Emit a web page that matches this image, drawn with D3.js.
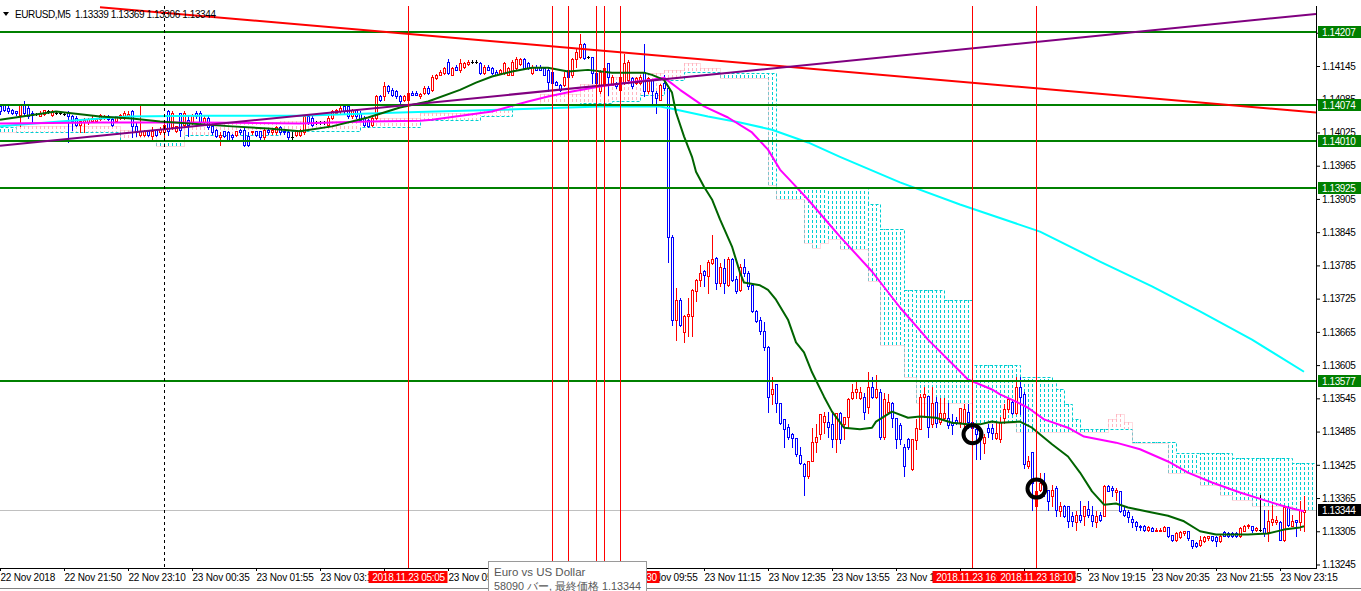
<!DOCTYPE html>
<html><head><meta charset="utf-8"><title>EURUSD,M5</title>
<script src="https://cdn.jsdelivr.net/npm/d3@7/dist/d3.min.js"></script>
<style>
html,body{margin:0;padding:0;background:#fff;overflow:hidden;}
svg{display:block;}
text{font-family:"Liberation Sans",Arial,sans-serif;}
</style></head>
<body><svg id="chart" width="1361" height="591"></svg>
<script>
// ---------------- DATA ----------------
const symbolTitle = "EURUSD,M5";
const headerValues = ["1.13339","1.13369","1.13306","1.13344"];

const opens = [
1.14072,1.14074,1.14070,1.14066,1.14063,1.14057,1.14075,1.14070,1.14061,1.14059,
1.14055,1.14059,1.14063,1.14057,1.14061,1.14061,1.14059,1.14061,1.14054,1.14052,
1.14039,1.14043,1.14043,1.14045,1.14045,1.14050,1.14052,1.14055,1.14050,1.14045,
1.14052,1.14052,1.14054,1.14063,1.14036,1.14021,1.14021,1.14027,1.14018,1.14030,
1.14025,1.14025,1.14063,1.14034,1.14027,1.14061,1.14039,1.14048,1.14043,1.14061,
1.14061,1.14043,1.14052,1.14036,1.14030,1.14016,1.14027,1.14025,1.14021,1.14021,
1.14030,1.14030,1.14018,1.14025,1.14027,1.14027,1.14016,1.14030,1.14025,1.14025,
1.14034,1.14027,1.14025,1.14016,1.14021,1.14021,1.14025,1.14054,1.14052,1.14043,
1.14043,1.14043,1.14039,1.14052,1.14061,1.14063,1.14072,1.14072,1.14054,1.14066,
1.14061,1.14052,1.14048,1.14039,1.14052,1.14090,1.14090,1.14108,1.14102,1.14099,
1.14090,1.14084,1.14084,1.14097,1.14097,1.14090,1.14097,1.14106,1.14102,1.14124,
1.14129,1.14133,1.14153,1.14129,1.14144,1.14138,1.14144,1.14148,1.14153,1.14153,
1.14151,1.14133,1.14144,1.14142,1.14135,1.14133,1.14133,1.14129,1.14129,1.14142,
1.14148,1.14157,1.14151,1.14133,1.14144,1.14144,1.14142,1.14138,1.14135,1.14117,
1.14111,1.14111,1.14138,1.14129,1.14157,1.14162,1.14184,1.14162,1.14162,1.14133,
1.14099,1.14111,1.14151,1.14111,1.14115,1.14102,1.14115,1.14120,1.14124,1.14115,
1.14115,1.14135,1.14099,1.14120,1.14097,1.14084,1.14115,1.14106,1.13837,1.13687,
1.13722,1.13664,1.13693,1.13693,1.13738,1.13759,1.13774,1.13765,1.13790,1.13799,
1.13754,1.13781,1.13750,1.13796,1.13761,1.13741,1.13783,1.13772,1.13749,1.13702,
1.13687,1.13667,1.13637,1.13552,1.13570,1.13537,1.13507,1.13494,1.13480,1.13474,
1.13442,1.13427,1.13404,1.13431,1.13467,1.13480,1.13503,1.13503,1.13498,1.13472,
1.13519,1.13498,1.13512,1.13545,1.13556,1.13546,1.13548,1.13530,1.13565,1.13548,
1.13557,1.13476,1.13521,1.13537,1.13510,1.13496,1.13458,1.13471,1.13418,1.13469,
1.13489,1.13548,1.13550,1.13498,1.13539,1.13503,1.13510,1.13510,1.13501,1.13505,
1.13503,1.13498,1.13521,1.13503,1.13489,1.13483,1.13465,1.13492,1.13492,1.13474,
1.13471,1.13510,1.13525,1.13539,1.13519,1.13566,1.13552,1.13422,1.13449,1.13350,
1.13380,1.13389,1.13380,1.13368,1.13384,1.13341,1.13350,1.13350,1.13333,1.13321,
1.13335,1.13332,1.13346,1.13335,1.13321,1.13335,1.13332,1.13386,1.13384,1.13375,
1.13377,1.13344,1.13339,1.13328,1.13321,1.13315,1.13314,1.13308,1.13310,1.13306,
1.13306,1.13306,1.13312,1.13299,1.13290,1.13294,1.13301,1.13305,1.13290,1.13283,
1.13281,1.13287,1.13292,1.13296,1.13294,1.13287,1.13303,1.13301,1.13301,1.13301,
1.13296,1.13306,1.13314,1.13314,1.13308,1.13308,1.13310,1.13303,1.13321,1.13321,
1.13321,1.13290,1.13348,1.13315,1.13326,1.13321,1.13339];

const highs = [
1.14075,1.14077,1.14072,1.14068,1.14063,1.14075,1.14081,1.14072,1.14063,1.14061,
1.14063,1.14066,1.14065,1.14065,1.14063,1.14063,1.14061,1.14063,1.14057,1.14054,
1.14048,1.14052,1.14052,1.14054,1.14052,1.14059,1.14057,1.14057,1.14052,1.14055,
1.14059,1.14063,1.14063,1.14066,1.14043,1.14072,1.14030,1.14028,1.14034,1.14032,
1.14034,1.14048,1.14066,1.14063,1.14037,1.14061,1.14063,1.14057,1.14059,1.14063,
1.14063,1.14054,1.14054,1.14037,1.14032,1.14025,1.14028,1.14027,1.14023,1.14028,
1.14032,1.14034,1.14025,1.14028,1.14028,1.14028,1.14032,1.14032,1.14032,1.14036,
1.14036,1.14028,1.14027,1.14025,1.14028,1.14032,1.14055,1.14055,1.14054,1.14045,
1.14046,1.14045,1.14054,1.14065,1.14068,1.14072,1.14074,1.14074,1.14068,1.14068,
1.14063,1.14054,1.14050,1.14054,1.14093,1.14093,1.14117,1.14111,1.14106,1.14102,
1.14093,1.14093,1.14099,1.14099,1.14099,1.14097,1.14108,1.14108,1.14128,1.14131,
1.14137,1.14144,1.14157,1.14144,1.14146,1.14157,1.14153,1.14155,1.14155,1.14156,
1.14153,1.14146,1.14146,1.14144,1.14137,1.14140,1.14153,1.14144,1.14155,1.14162,
1.14159,1.14159,1.14153,1.14146,1.14146,1.14146,1.14144,1.14142,1.14137,1.14118,
1.14113,1.14135,1.14140,1.14160,1.14175,1.14202,1.14186,1.14163,1.14162,1.14135,
1.14137,1.14153,1.14151,1.14128,1.14117,1.14128,1.14166,1.14155,1.14126,1.14126,
1.14128,1.14184,1.14126,1.14122,1.14099,1.14113,1.14129,1.14108,1.13839,1.13745,
1.13727,1.13696,1.13727,1.13743,1.13761,1.13785,1.13776,1.13794,1.13839,1.13801,
1.13790,1.13796,1.13801,1.13799,1.13765,1.13787,1.13796,1.13774,1.13750,1.13705,
1.13691,1.13682,1.13640,1.13584,1.13570,1.13537,1.13507,1.13498,1.13483,1.13474,
1.13458,1.13429,1.13431,1.13492,1.13498,1.13516,1.13521,1.13521,1.13519,1.13519,
1.13521,1.13512,1.13546,1.13570,1.13579,1.13566,1.13555,1.13593,1.13583,1.13588,
1.13561,1.13555,1.13552,1.13539,1.13510,1.13500,1.13462,1.13474,1.13471,1.13507,
1.13552,1.13566,1.13550,1.13565,1.13548,1.13546,1.13546,1.13537,1.13516,1.13512,
1.13528,1.13534,1.13534,1.13503,1.13494,1.13492,1.13480,1.13498,1.13498,1.13501,
1.13512,1.13534,1.13546,1.13543,1.13584,1.13584,1.13556,1.13440,1.13449,1.13389,
1.13411,1.13411,1.13380,1.13389,1.13386,1.13357,1.13353,1.13350,1.13339,1.13341,
1.13359,1.13350,1.13359,1.13350,1.13341,1.13339,1.13389,1.13389,1.13386,1.13384,
1.13377,1.13350,1.13344,1.13332,1.13323,1.13317,1.13317,1.13314,1.13312,1.13310,
1.13310,1.13314,1.13312,1.13299,1.13303,1.13305,1.13306,1.13306,1.13290,1.13285,
1.13297,1.13296,1.13297,1.13297,1.13296,1.13299,1.13305,1.13303,1.13303,1.13303,
1.13312,1.13317,1.13319,1.13314,1.13312,1.13371,1.13344,1.13344,1.13353,1.13333,
1.13323,1.13352,1.13350,1.13335,1.13326,1.13359,1.13369];

const lows = [
1.14059,1.14063,1.14061,1.14059,1.14057,1.14036,1.14057,1.14052,1.14043,1.14057,
1.14054,1.14057,1.14061,1.14055,1.14059,1.14059,1.14057,1.14007,1.14030,1.14036,
1.14025,1.14025,1.14041,1.14043,1.14043,1.14048,1.14050,1.14048,1.14037,1.14043,
1.14050,1.14050,1.14052,1.14016,1.14018,1.14018,1.14019,1.14019,1.14012,1.14019,
1.14023,1.14012,1.14021,1.14032,1.14025,1.14018,1.14037,1.14018,1.14041,1.14052,
1.14041,1.14041,1.14032,1.14023,1.14016,1.14003,1.14016,1.14010,1.14014,1.14019,
1.14023,1.14000,1.14000,1.14023,1.14019,1.14014,1.14014,1.14023,1.14023,1.14023,
1.14023,1.14023,1.14014,1.14009,1.14019,1.14019,1.14023,1.14041,1.14037,1.14041,
1.14041,1.14041,1.14037,1.14050,1.14059,1.14061,1.14061,1.14052,1.14052,1.14052,
1.14046,1.14037,1.14034,1.14037,1.14050,1.14081,1.14084,1.14097,1.14090,1.14088,
1.14079,1.14081,1.14083,1.14092,1.14092,1.14088,1.14095,1.14095,1.14100,1.14122,
1.14128,1.14131,1.14131,1.14128,1.14137,1.14135,1.14142,1.14146,1.14151,1.14151,
1.14131,1.14131,1.14137,1.14131,1.14128,1.14131,1.14131,1.14128,1.14128,1.14140,
1.14146,1.14140,1.14140,1.14131,1.14137,1.14137,1.14128,1.14099,1.14113,1.14110,
1.14100,1.14108,1.14124,1.14126,1.14144,1.14160,1.14158,1.14160,1.14115,1.14113,
1.14097,1.14097,1.14093,1.14110,1.14106,1.14100,1.14113,1.14118,1.14106,1.14113,
1.14113,1.14090,1.14097,1.14079,1.14061,1.14083,1.14102,1.13792,1.13678,1.13651,
1.13675,1.13646,1.13657,1.13658,1.13720,1.13747,1.13747,1.13736,1.13788,1.13743,
1.13747,1.13736,1.13747,1.13756,1.13736,1.13738,1.13765,1.13743,1.13700,1.13682,
1.13662,1.13633,1.13521,1.13534,1.13521,1.13498,1.13458,1.13471,1.13458,1.13440,
1.13426,1.13371,1.13402,1.13431,1.13449,1.13471,1.13483,1.13476,1.13458,1.13449,
1.13465,1.13471,1.13494,1.13543,1.13546,1.13543,1.13507,1.13519,1.13546,1.13546,
1.13471,1.13471,1.13519,1.13494,1.13456,1.13462,1.13404,1.13453,1.13416,1.13453,
1.13489,1.13512,1.13476,1.13494,1.13494,1.13498,1.13507,1.13492,1.13480,1.13498,
1.13494,1.13492,1.13492,1.13435,1.13435,1.13435,1.13447,1.13476,1.13471,1.13471,
1.13467,1.13501,1.13521,1.13516,1.13516,1.13516,1.13420,1.13420,1.13344,1.13344,
1.13377,1.13368,1.13344,1.13350,1.13332,1.13332,1.13330,1.13312,1.13314,1.13308,
1.13321,1.13317,1.13330,1.13314,1.13312,1.13323,1.13332,1.13377,1.13368,1.13362,
1.13339,1.13332,1.13321,1.13312,1.13308,1.13308,1.13305,1.13306,1.13305,1.13305,
1.13305,1.13305,1.13294,1.13287,1.13287,1.13292,1.13299,1.13290,1.13274,1.13276,
1.13279,1.13285,1.13290,1.13288,1.13279,1.13285,1.13296,1.13294,1.13294,1.13294,
1.13294,1.13305,1.13310,1.13303,1.13306,1.13306,1.13296,1.13287,1.13317,1.13319,
1.13290,1.13287,1.13314,1.13314,1.13296,1.13308,1.13306];

const closes = [
1.14063,1.14066,1.14063,1.14061,1.14061,1.14075,1.14061,1.14054,1.14057,1.14059,
1.14061,1.14065,1.14063,1.14063,1.14061,1.14061,1.14059,1.14054,1.14045,1.14039,
1.14045,1.14048,1.14050,1.14052,1.14050,1.14057,1.14055,1.14050,1.14039,1.14054,
1.14057,1.14061,1.14059,1.14036,1.14025,1.14027,1.14027,1.14021,1.14027,1.14021,
1.14032,1.14039,1.14027,1.14061,1.14036,1.14030,1.14061,1.14039,1.14057,1.14054,
1.14043,1.14052,1.14034,1.14025,1.14018,1.14021,1.14018,1.14012,1.14016,1.14027,
1.14025,1.14003,1.14003,1.14027,1.14021,1.14016,1.14030,1.14025,1.14030,1.14034,
1.14025,1.14025,1.14016,1.14016,1.14027,1.14030,1.14054,1.14043,1.14039,1.14043,
1.14043,1.14043,1.14052,1.14063,1.14066,1.14070,1.14063,1.14054,1.14066,1.14054,
1.14048,1.14039,1.14036,1.14052,1.14090,1.14083,1.14108,1.14099,1.14093,1.14090,
1.14081,1.14090,1.14097,1.14093,1.14093,1.14095,1.14106,1.14097,1.14126,1.14129,
1.14135,1.14142,1.14133,1.14142,1.14138,1.14151,1.14151,1.14153,1.14153,1.14153,
1.14133,1.14144,1.14138,1.14133,1.14129,1.14138,1.14151,1.14142,1.14153,1.14157,
1.14157,1.14142,1.14142,1.14144,1.14138,1.14138,1.14129,1.14117,1.14115,1.14111,
1.14102,1.14126,1.14126,1.14157,1.14171,1.14184,1.14160,1.14162,1.14133,1.14115,
1.14135,1.14142,1.14126,1.14126,1.14108,1.14126,1.14151,1.14153,1.14108,1.14124,
1.14126,1.14099,1.14124,1.14099,1.14088,1.14111,1.14106,1.13837,1.13687,1.13723,
1.13678,1.13694,1.13698,1.13741,1.13759,1.13772,1.13767,1.13792,1.13797,1.13754,
1.13783,1.13754,1.13796,1.13759,1.13738,1.13783,1.13772,1.13747,1.13702,1.13684,
1.13666,1.13637,1.13548,1.13561,1.13537,1.13501,1.13489,1.13476,1.13474,1.13444,
1.13429,1.13404,1.13431,1.13467,1.13476,1.13516,1.13514,1.13494,1.13472,1.13519,
1.13472,1.13512,1.13543,1.13556,1.13561,1.13557,1.13521,1.13565,1.13548,1.13561,
1.13476,1.13543,1.13539,1.13510,1.13472,1.13471,1.13422,1.13458,1.13471,1.13491,
1.13548,1.13552,1.13494,1.13537,1.13501,1.13519,1.13519,1.13496,1.13496,1.13500,
1.13528,1.13525,1.13503,1.13492,1.13480,1.13471,1.13476,1.13485,1.13483,1.13483,
1.13503,1.13525,1.13543,1.13519,1.13566,1.13548,1.13426,1.13431,1.13393,1.13377,
1.13393,1.13380,1.13359,1.13380,1.13344,1.13350,1.13332,1.13323,1.13323,1.13335,
1.13326,1.13350,1.13335,1.13323,1.13333,1.13326,1.13386,1.13377,1.13380,1.13380,
1.13341,1.13335,1.13330,1.13321,1.13314,1.13312,1.13308,1.13312,1.13306,1.13308,
1.13308,1.13312,1.13296,1.13290,1.13301,1.13303,1.13305,1.13292,1.13278,1.13278,
1.13290,1.13294,1.13296,1.13290,1.13287,1.13297,1.13297,1.13296,1.13296,1.13296,
1.13310,1.13315,1.13317,1.13308,1.13310,1.13308,1.13301,1.13323,1.13328,1.13326,
1.13290,1.13348,1.13317,1.13323,1.13321,1.13344,1.13344];

// moving averages: bar index + value
const maGreenBars = [0,14,25,33,40,58,67,75,83,92,100,107,115,119,123,128,133,137,142,147,153,161,163,166,168,169,171,173,174,176,178,180,183,185,186,190,192,194,197,199,201,203,206,208,211,215,218,219,223,227,230,234,238,242,245,248,250,255,258,263,267,270,273,276,279,282,288,292,296,300,304,312,317,321,325,326];
const maGreenVals = [1.14048,1.14063,1.14054,1.14050,1.14045,1.14036,1.14032,1.14027,1.14036,1.14052,1.14070,1.14081,1.14102,1.14115,1.14126,1.14135,1.14142,1.14142,1.14135,1.14138,1.14133,1.14133,1.14129,1.14120,1.14097,1.14061,1.14018,1.13981,1.13954,1.13927,1.13904,1.13868,1.13819,1.13772,1.13754,1.13749,1.13741,1.13723,1.13687,1.13646,1.13628,1.13592,1.13548,1.13521,1.13492,1.13489,1.13492,1.13503,1.13521,1.13510,1.13512,1.13510,1.13501,1.13498,1.13498,1.13503,1.13501,1.13503,1.13492,1.13462,1.13440,1.13411,1.13377,1.13353,1.13355,1.13348,1.13339,1.13333,1.13323,1.13305,1.13299,1.13299,1.13301,1.13308,1.13312,1.13314];
const maMagentaBars = [0,25,50,75,92,105,108,123,132,137,143,150,157,163,166,170,176,182,188,192,195,198,202,207,210,218,225,232,237,242,248,250,254,257,261,267,271,279,285,292,297,303,310,317,322,326];
const maMagentaVals = [1.14041,1.14043,1.14043,1.14041,1.14045,1.14046,1.14048,1.14063,1.14081,1.14090,1.14099,1.14108,1.14115,1.14120,1.14124,1.14102,1.14072,1.14052,1.14025,1.13994,1.13958,1.13935,1.13904,1.13862,1.13837,1.13774,1.13709,1.13651,1.13615,1.13579,1.13561,1.13552,1.13539,1.13528,1.13507,1.13492,1.13476,1.13465,1.13453,1.13431,1.13411,1.13393,1.13375,1.13359,1.13348,1.13341];
const maCyanBars = [0,15,32,50,75,100,125,150,165,168,177,185,193,202,210,225,240,260,275,288,300,313,326];
const maCyanVals = [1.14036,1.14045,1.14054,1.14055,1.14055,1.14061,1.14066,1.14072,1.14072,1.14068,1.14054,1.14043,1.14030,1.14007,1.13981,1.13935,1.13895,1.13846,1.13792,1.13747,1.13702,1.13651,1.13593];

// Ichimoku cloud (step segments): start bar, span A, span B
const kumoBars = [0,4,30,39,46,70,90,105,120,128,135,145,153,160,166,171,175,180,192,194,201,203,205,207,210,217,220,226,229,236,243,254,255,263,264,266,268,270,277,279,281,283,292,294,300,305,308,313,323];
const kumoA = [1.14025,1.14036,1.14030,1.14001,1.14043,1.14045,1.14052,1.14061,1.14066,1.14077,1.14095,1.14113,1.14126,1.14133,1.14138,1.14151,1.14142,1.14124,1.13931,1.13904,1.13826,1.13817,1.13826,1.13832,1.13814,1.13756,1.13642,1.13584,1.13537,1.13537,1.13501,1.13485,1.13485,1.13485,1.13485,1.13485,1.13485,1.13485,1.13507,1.13516,1.13503,1.13465,1.13411,1.13411,1.13389,1.13371,1.13362,1.13350,1.13344];
const kumoB = [1.14034,1.14025,1.14009,1.14009,1.14021,1.14027,1.14034,1.14048,1.14054,1.14074,1.14077,1.14079,1.14081,1.14093,1.14120,1.14135,1.14135,1.14133,1.14133,1.13926,1.13926,1.13926,1.13926,1.13926,1.13926,1.13895,1.13850,1.13741,1.13741,1.13723,1.13606,1.13606,1.13584,1.13579,1.13561,1.13534,1.13507,1.13489,1.13489,1.13489,1.13489,1.13467,1.13467,1.13447,1.13447,1.13447,1.13438,1.13438,1.13429];

// axis ticks
const timeTickBars = [0,16,32,48,64,80,96,112,128,144,160,176,192,208,224,240,256,272,288,304,320];
const timeTickLabels = ["22 Nov 2018","22 Nov 21:50","22 Nov 23:10","23 Nov 00:35","23 Nov 01:55","23 Nov 03:15","23 Nov 04:35","23 Nov 05:55","23 Nov 07:15","23 Nov 08:35","23 Nov 09:55","23 Nov 11:15","23 Nov 12:35","23 Nov 13:55","23 Nov 15:15","23 Nov 16:35","23 Nov 17:55","23 Nov 19:15","23 Nov 20:35","23 Nov 21:55","23 Nov 23:15"];
const priceTicks = [1.13245,1.13305,1.13365,1.13425,1.13485,1.13545,1.13605,1.13665,1.13725,1.13785,1.13845,1.13905,1.13965,1.14025,1.14085,1.14145,1.14205];

// objects
const levelPrices = [1.14207,1.14074,1.14010,1.13925,1.13577];
const lastPrice = 1.13344;
const vLineBars = [102,138,142,149,151,155,243,259];
const vLineLabels = ["2018.11.23 05:05","2018.11.23 08:05","2018.11.23 08:25","2018.11.23 09:00","2018.11.23 09:10","2018.11.23 09:30","2018.11.23 16:50","2018.11.23 18:10"];
const separatorBar = 41;
const trendRedBars = [25,329], trendRedPrices = [1.14251,1.14061];
const trendPurpleBars = [0,329], trendPurplePrices = [1.14001,1.14239];
const markBars = [243,259], markPrices = [1.13480,1.13382];
const tooltipLines = ["Euro vs US Dollar","58090 バー, 最終価格 1.13344"];

// ---------------- DRAW ----------------
const svg = d3.select("#chart");
const PR = 1316, PT = 6, PB = 568, NB = 330;
const x = d3.scaleLinear().domain([0, 329]).range([0, 1316]);
const y = d3.scaleLinear().domain([1.13245, 1.14145]).range([564.5, 66]);
const X = k => Math.round(x(k));
const Y = v => Math.round(y(v));
const TT = {x0: 488, x1: 647};          // tooltip horizontal extent
const LW = 79;                           // red time label width

svg.append("rect").attr("width",1361).attr("height",591).attr("fill","#fff");
svg.append("defs").append("clipPath").attr("id","clip")
  .append("rect").attr("x",0).attr("y",PT).attr("width",PR).attr("height",PB-PT);
const plot = svg.append("g").attr("clip-path","url(#clip)");

// cloud hatch
const kumo = d3.range(NB).map(k => { const i = d3.bisectRight(kumoBars, k) - 1; return {k, a: kumoA[i], b: kumoB[i]}; });
plot.append("g").selectAll("line").data(kumo).join("line")
  .attr("x1", d => X(d.k) + 0.5).attr("x2", d => X(d.k) + 0.5)
  .attr("y1", d => Y(d.a)).attr("y2", d => Y(d.b))
  .attr("stroke", d => d.a > d.b ? "#ffb6c1" : "#00ced1")
  .attr("stroke-width", 1).attr("stroke-dasharray", "3,2");
const stepPts = vals => kumoBars.map((k,i) => [k, vals[i]]).concat([[NB-1, vals[vals.length-1]]]);
const stepLine = d3.line().x(d => X(d[0]) + 0.5).y(d => Y(d[1]) + 0.5).curve(d3.curveStepAfter);
plot.append("path").attr("d", stepLine(stepPts(kumoB))).attr("fill","none")
  .attr("stroke","#00ced1").attr("stroke-dasharray","3,2");
plot.append("path").attr("d", stepLine(stepPts(kumoA))).attr("fill","none")
  .attr("stroke","#ffb6c1").attr("stroke-dasharray","1,1");

// last price line
plot.append("line").attr("x1",0).attr("x2",PR).attr("y1",Y(lastPrice)+0.5).attr("y2",Y(lastPrice)+0.5)
  .attr("stroke","#c0c0c0");

// candles
const bars = opens.map((o,i) => ({k:i, o, h:highs[i], l:lows[i], c:closes[i]}));
const colorOf = d => d.c > d.o ? "#ff0000" : (d.c < d.o ? "#0000ff" : "#000000");
const cg = plot.append("g");
bars.forEach(d => {
  const cx = X(d.k), col = colorOf(d);
  const yt = Y(Math.max(d.o,d.c)), yb = Y(Math.min(d.o,d.c)), yh = Y(d.h), yl = Y(d.l);
  if (yh < yt) cg.append("line").attr("x1",cx+0.5).attr("x2",cx+0.5).attr("y1",yh).attr("y2",yt).attr("stroke",col);
  if (yl > yb) cg.append("line").attr("x1",cx+0.5).attr("x2",cx+0.5).attr("y1",yb+1).attr("y2",yl+1).attr("stroke",col);
  if (yb - yt < 1) {
    cg.append("line").attr("x1",cx-1).attr("x2",cx+2).attr("y1",yt+0.5).attr("y2",yt+0.5).attr("stroke",col);
  } else {
    cg.append("rect").attr("x",cx-0.5).attr("y",yt+0.5).attr("width",2).attr("height",yb-yt)
      .attr("fill","#fff").attr("stroke",col);
  }
});

// moving averages
const maLine = d3.line().x(d => x(d[0])).y(d => y(d[1]));
[[maCyanBars, maCyanVals, "#00ffff"], [maMagentaBars, maMagentaVals, "#ff00ff"], [maGreenBars, maGreenVals, "#006400"]]
 .forEach(([b, v, col]) => {
   plot.append("path").attr("d", maLine(b.map((k,i) => [k, v[i]]))).attr("fill","none")
     .attr("stroke", col).attr("stroke-width", 2).attr("stroke-linejoin","round");
 });

// horizontal levels
plot.append("g").selectAll("line").data(levelPrices).join("line")
  .attr("x1",0).attr("x2",PR).attr("y1",d => Y(d)).attr("y2",d => Y(d))
  .attr("stroke","#008000").attr("stroke-width",2);

// trendlines
const tl = d3.line().x(d => x(d[0])).y(d => y(d[1]));
plot.append("path").attr("d", tl(trendRedBars.map((b,i) => [b, trendRedPrices[i]])))
  .attr("stroke","#ff0000").attr("stroke-width",2).attr("fill","none");
plot.append("path").attr("d", tl(trendPurpleBars.map((b,i) => [b, trendPurplePrices[i]])))
  .attr("stroke","#800080").attr("stroke-width",2).attr("fill","none");

// vertical lines
plot.append("g").selectAll("line").data(vLineBars).join("line")
  .attr("x1", d => X(d)+0.5).attr("x2", d => X(d)+0.5).attr("y1", PT).attr("y2", PB)
  .attr("stroke","#ff0000");
plot.append("line").attr("x1", X(separatorBar)+0.5).attr("x2", X(separatorBar)+0.5)
  .attr("y1", PT).attr("y2", PB).attr("stroke","#000").attr("stroke-dasharray","3,3");

// marks
plot.append("g").selectAll("circle").data(markBars).join("circle")
  .attr("cx", d => x(d)+0.5).attr("cy", (d,i) => y(markPrices[i]))
  .attr("r", 9).attr("fill","none").attr("stroke","#000").attr("stroke-width",4);

// frame
svg.append("line").attr("x1",PR+0.5).attr("x2",PR+0.5).attr("y1",PT).attr("y2",PB+1).attr("stroke","#000");
svg.append("line").attr("x1",0).attr("x2",PR+1).attr("y1",PB+0.5).attr("y2",PB+0.5).attr("stroke","#000");
svg.append("line").attr("x1",0).attr("x2",1361).attr("y1",588.5).attr("y2",588.5).attr("stroke","#808080");

// right axis
const yAxis = d3.axisRight(y).tickValues(priceTicks).tickSize(4).tickPadding(2).tickFormat(d3.format(".5f"));
const gy = svg.append("g").attr("transform", `translate(${PR},0)`).call(yAxis);
gy.select(".domain").remove();
gy.selectAll("text").attr("font-family","Liberation Sans, Arial, sans-serif").attr("font-size",10)
  .attr("letter-spacing","-0.4").attr("fill","#000");
gy.selectAll("line").attr("stroke","#000");

// covered intervals on the time axis (red labels + tooltip)
const covers = vLineBars.map(b => [X(b) - LW/2, X(b) + LW/2]).concat([[TT.x0, TT.x1]]);
const fullyCovered = (a, b, list) => {
  const iv = list.slice().sort((p,q) => p[0]-q[0]);
  let pos = a;
  for (const [s,e] of iv) { if (s <= pos && e > pos) pos = e; }
  return pos >= b;
};

// bottom axis
const xAxis = d3.axisBottom(x).tickValues(timeTickBars).tickSize(3).tickPadding(3)
  .tickFormat((d,i) => timeTickLabels[i]);
const gx = svg.append("g").attr("transform", `translate(0,${PB})`).call(xAxis);
gx.select(".domain").remove();
gx.attr("text-anchor","start");
gx.selectAll("text").attr("font-family","Liberation Sans, Arial, sans-serif").attr("font-size",10)
  .attr("letter-spacing","-0.2").attr("fill","#000").attr("x",0);
gx.selectAll("line").attr("stroke","#000");
gx.selectAll(".tick").filter(d => fullyCovered(X(d), X(d) + 56, covers)).select("text").remove();

// level labels on price axis
const lab = svg.append("g");
levelPrices.forEach(v => {
  lab.append("rect").attr("x",PR+2).attr("y",Y(v)-6).attr("width",43).attr("height",12).attr("fill","#008000");
  lab.append("text").attr("x",PR+6).attr("y",Y(v)+4).attr("font-size",10).attr("letter-spacing","-0.4")
    .attr("fill","#fff").text(d3.format(".5f")(v));
});
lab.append("rect").attr("x",PR+2).attr("y",Y(lastPrice)-6).attr("width",43).attr("height",12).attr("fill","#000");
lab.append("text").attr("x",PR+6).attr("y",Y(lastPrice)+4).attr("font-size",10).attr("letter-spacing","-0.4")
  .attr("fill","#fff").text(d3.format(".5f")(lastPrice));

// vertical line labels on time axis (later labels drawn over earlier ones)
vLineBars.forEach((b,i) => {
  const cx = X(b);
  const later = vLineBars.slice(i+1).map(q => [X(q) - LW/2, X(q) + LW/2]).concat([[TT.x0, TT.x1]]);
  lab.append("rect").attr("x",cx-LW/2).attr("y",571).attr("width",LW).attr("height",12).attr("fill","#ff0000");
  if (!fullyCovered(cx - LW/2, cx + LW/2, later)) {
    lab.append("text").attr("x",cx+0.5).attr("y",581).attr("text-anchor","middle").attr("font-size",10)
      .attr("letter-spacing","-0.3").attr("fill","#fff").text(vLineLabels[i]);
  }
});

// header
svg.append("path").attr("d","M3,12L9,12L6,16Z").attr("fill","#000");
svg.append("text").attr("x",15).attr("y",18).attr("font-size",10).attr("letter-spacing","-0.4")
  .style("white-space","pre").attr("fill","#000")
  .text(symbolTitle + "  " + headerValues.join(" "));

// tooltip
const tt = svg.append("g");
tt.append("rect").attr("x",TT.x0+0.5).attr("y",561.5).attr("width",TT.x1-TT.x0-1).attr("height",36)
  .attr("fill","#ffffff").attr("stroke","#9a9a9a");
tooltipLines.forEach((t,i) => {
  tt.append("text").attr("x",494).attr("y",576 + i*14).attr("font-size", i === 0 ? 11.5 : 10.8)
    .attr("font-family","Liberation Sans, 'Noto Sans CJK JP', sans-serif")
    .attr("fill","#575757").text(t);
});
</script>
</body></html>
